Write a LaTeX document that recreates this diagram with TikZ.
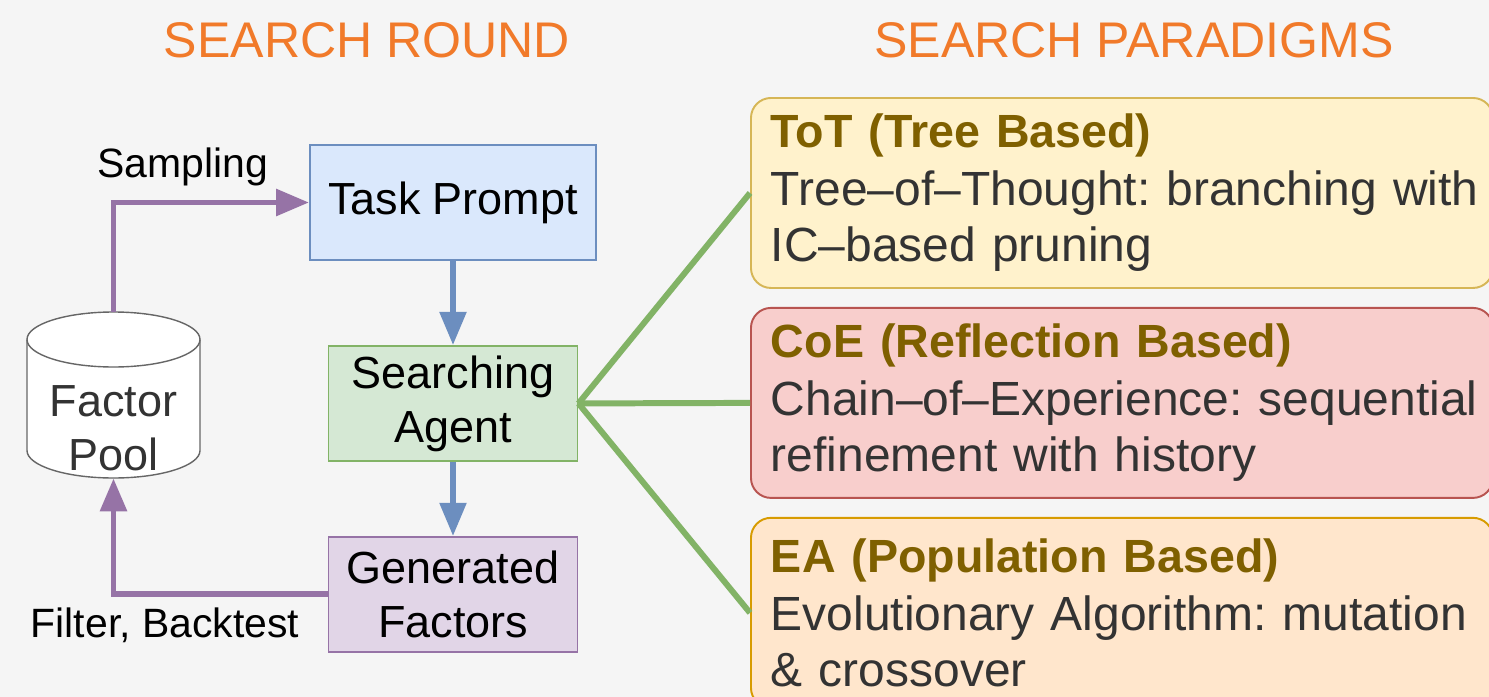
\documentclass[tikz,border=0pt]{standalone}
\usepackage{fontspec}
\setmainfont{Liberation Sans}
\usetikzlibrary{arrows.meta,positioning}

\definecolor{canvas}{HTML}{F5F5F5}
\definecolor{orangehead}{HTML}{F17A2A}
\definecolor{promptfill}{HTML}{DAE8FC}
\definecolor{promptline}{HTML}{6C8EBF}
\definecolor{agentfill}{HTML}{D5E8D4}
\definecolor{agentline}{HTML}{82B366}
\definecolor{factfill}{HTML}{E1D5E7}
\definecolor{factline}{HTML}{9673A6}
\definecolor{totfill}{HTML}{FFF2CC}
\definecolor{totline}{HTML}{D6B656}
\definecolor{coefill}{HTML}{F8CECC}
\definecolor{coeline}{HTML}{B85450}
\definecolor{eafill}{HTML}{FFE6CC}
\definecolor{ealine}{HTML}{D79B00}
\definecolor{titlebrown}{HTML}{7F6000}
\definecolor{bodygray}{HTML}{333333}
\definecolor{poolline}{HTML}{666666}

\tikzstyle{line} = [draw, line width=3.4pt]
\tikzstyle{flow} = [line, -{Triangle[length=0.66cm,width=0.52cm]}]

\newcommand{\paradigmtitle}[1]{{\fontsize{26.5}{31.9}\selectfont\bfseries\color{titlebrown}#1}}

\frenchspacing

\begin{document}
\begin{tikzpicture}[
        font = \fontsize{25.6}{30.7}\selectfont, % box text
        block/.style = {draw, line width=1.1pt, align=center,
            minimum width=4.98cm, minimum height=2.3cm},
        paradigm/.style = {draw, line width=1.1pt, rounded corners=0.4cm,
            align=left, text width=14.04cm, minimum width=14.84cm,
            minimum height=3.8cm, inner xsep=0.4cm, text=bodygray,
            font=\fontsize{27.3}{31.9}\selectfont},
        heading/.style = {anchor=base, text=orangehead,
            font=\fontsize{28.5}{34}\selectfont},
        edgelabel/.style = {anchor=base, font=\fontsize{23.3}{28}\selectfont},
        lid/.style = {x radius=1.73cm, y radius=0.55cm}
    ]

    % canvas
    \fill[canvas] (0,0) rectangle (29.78,-13.94);
    \useasboundingbox (0,0) rectangle (29.78,-13.94);
    \clip (0,0) rectangle (29.78,-13.94);

    \node[heading] (round) at (7.34,-1.14) {SEARCH ROUND};
    \node[heading] (paradigms) at (22.68,-1.14) {SEARCH PARADIGMS};

    % search loop
    \node[block, fill=promptfill, draw=promptline, minimum width=5.72cm] (prompt) at (9.06,-4.05) {Task Prompt};
    \node[block, fill=agentfill, draw=agentline] (agent) [below=1.68cm of prompt] {Searching\\Agent};
    \node[block, fill=factfill, draw=factline] (factors) [below=1.48cm of agent] {Generated\\Factors};

    % database drum: body, then the lower rim of the lid
    \draw[poolline, fill=white, line width=0.8pt] (0.54,-6.79) -- (0.54,-9.01)
        arc[start angle=180, end angle=360, lid] -- (4.0,-6.79)
        arc[start angle=0, end angle=180, lid] -- cycle;
    \draw[poolline, line width=0.8pt] (0.54,-6.79) arc[start angle=180, end angle=360, lid];
    \node[minimum width=3.46cm, minimum height=3.32cm, inner sep=0pt, text=bodygray] (pool) at (2.27,-7.9)
        {\raisebox{-0.98cm}[0pt][0pt]{\begin{tabular}{@{}c@{}}Factor\\Pool\end{tabular}}};

    \draw[flow, promptline, line width=3pt] (prompt) -- (agent);
    \draw[flow, promptline, line width=3pt] (agent) -- (factors);
    \draw[flow, factline] (pool.north) |- (prompt.west);
    \draw[flow, factline] (factors.west) -| (pool.south);

    \node[edgelabel] (sampling) at (3.66,-3.54) {Sampling};
    \node[edgelabel] (filter) at (3.30,-12.74) {Filter, Backtest};

    % paradigms
    \node[paradigm, fill=totfill, draw=totline, anchor=north west] (tot) at (15.0,-1.94)
        {\paradigmtitle{ToT (Tree Based)}\\[1.1pt]
         \mbox{Tree--of--Thought: branching with}\\IC--based pruning};
    \node[paradigm, fill=coefill, draw=coeline] (coe) [below=0.36cm of tot]
        {\paradigmtitle{CoE (Reflection Based)}\\[1.1pt]
         \mbox{Chain--of--Experience: sequential}\\refinement with history};
    \node[paradigm, fill=eafill, draw=ealine] (ea) [below=0.36cm of coe]
        {\paradigmtitle{EA (Population Based)}\\[1.1pt]
         \mbox{Evolutionary Algorithm: mutation}\\\& crossover};

    \draw[line, agentline] (agent.east) -- (tot.west);
    \draw[line, agentline] (agent.east) -- (coe.west);
    \draw[line, agentline] (agent.east) -- (ea.west);

\end{tikzpicture}
\end{document}
